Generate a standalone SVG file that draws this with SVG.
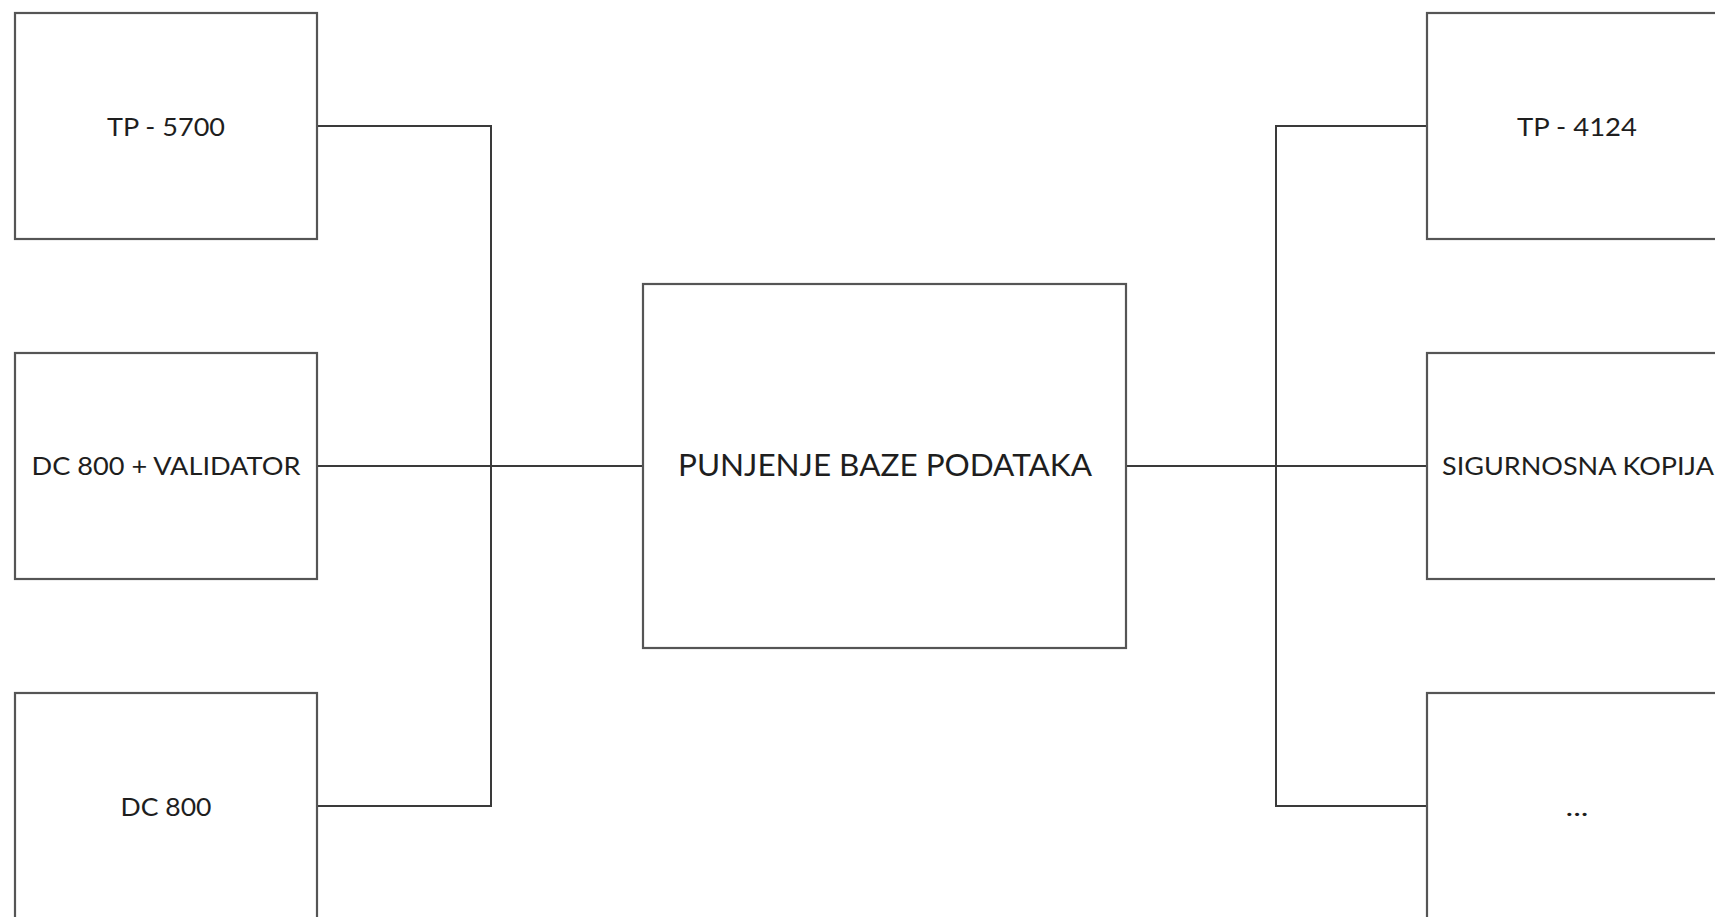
<svg xmlns="http://www.w3.org/2000/svg" width="1715" height="917" viewBox="0 0 1715 917">
<style>
.box{fill:#ffffff;stroke:#555555;stroke-width:2.2}
.conn{fill:none;stroke:#3a3a3a;stroke-width:2}
.lbl{font-family:Lato,"Open Sans","Liberation Sans",sans-serif;font-size:25px;fill:#1e1e1e;text-anchor:middle}
.big{font-size:31px}
</style>
<rect width="1715" height="917" fill="#ffffff"/>
<g id="connectors">
<polyline class="conn" points="317,126 491,126 491,806 317,806"/>
<line class="conn" x1="317" y1="466" x2="643" y2="466"/>
<polyline class="conn" points="1427,126 1276,126 1276,806 1427,806"/>
<line class="conn" x1="1126" y1="466" x2="1427" y2="466"/>
</g>
<g id="tp5700">
<rect class="box" x="15" y="13" width="302" height="226"/>
<text class="lbl" x="166" y="136" textLength="118" lengthAdjust="spacingAndGlyphs">TP - 5700</text>
</g>
<g id="dc800validator">
<rect class="box" x="15" y="353" width="302" height="226"/>
<text class="lbl" x="166" y="475" textLength="269" lengthAdjust="spacingAndGlyphs">DC 800 + VALIDATOR</text>
</g>
<g id="dc800">
<rect class="box" x="15" y="693" width="302" height="240"/>
<text class="lbl" x="166" y="816" textLength="91" lengthAdjust="spacingAndGlyphs">DC 800</text>
</g>
<g id="punjenje">
<rect class="box" x="643" y="284" width="483" height="364"/>
<text class="lbl big" x="885" y="476" textLength="414" lengthAdjust="spacingAndGlyphs">PUNJENJE BAZE PODATAKA</text>
</g>
<g id="tp4124">
<rect class="box" x="1427" y="13" width="302" height="226"/>
<text class="lbl" x="1577" y="136" textLength="120" lengthAdjust="spacingAndGlyphs">TP - 4124</text>
</g>
<g id="sigurnosna">
<rect class="box" x="1427" y="353" width="302" height="226"/>
<text class="lbl" x="1578" y="475" textLength="272" lengthAdjust="spacingAndGlyphs">SIGURNOSNA KOPIJA</text>
</g>
<g id="more">
<rect class="box" x="1427" y="693" width="302" height="240"/>
<text class="lbl" x="1577" y="816" textLength="23" lengthAdjust="spacingAndGlyphs">...</text>
</g>
</svg>
